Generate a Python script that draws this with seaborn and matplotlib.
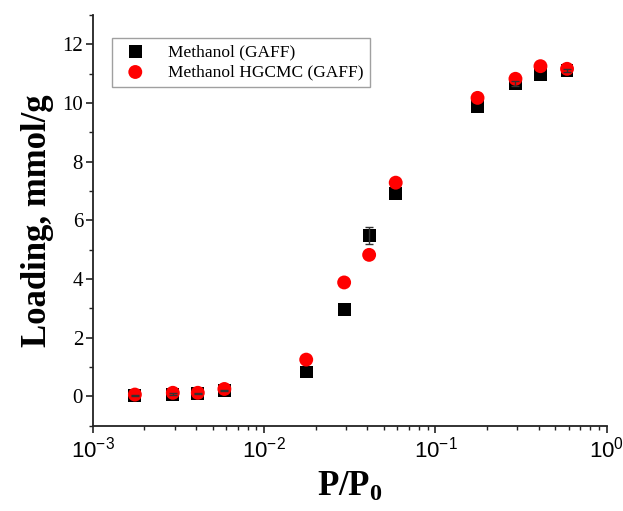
import matplotlib
matplotlib.use("Agg")
import matplotlib.pyplot as plt
import seaborn as sns
import pandas as pd
from matplotlib.ticker import LogLocator, MultipleLocator, NullFormatter

# Data
p_rel = [0.00176, 0.00293, 0.0041, 0.00586, 0.0176, 0.0293, 0.041, 0.0586,
         0.176, 0.293, 0.41, 0.586]
gaff = [0.03, 0.07, 0.10, 0.20, 0.83, 2.97, 5.48, 6.90, 9.87, 10.65, 10.97, 11.11]
gaff_err = [0.03, 0.03, 0.03, 0.03, 0.0, 0.0, 0.28, 0.0, 0.0, 0.08, 0.0, 0.06]
hgcmc = [0.06, 0.12, 0.12, 0.25, 1.25, 3.88, 4.82, 7.28, 10.17, 10.82, 11.25, 11.16]
label_gaff = "Methanol (GAFF)"
label_hgcmc = "Methanol HGCMC (GAFF)"

sns.set_style("ticks")
plt.rcParams["font.family"] = ["Liberation Serif", "DejaVu Serif"]
plt.rcParams["text.color"] = "black"
plt.rcParams["axes.labelcolor"] = "black"
plt.rcParams["xtick.color"] = "black"
plt.rcParams["ytick.color"] = "black"

fig = plt.figure(figsize=(6.23, 5.11), dpi=100)
ax = fig.add_axes([0.149, 0.167, 0.825, 0.804])

df1 = pd.DataFrame({"x": p_rel, "y": gaff})
df2 = pd.DataFrame({"x": p_rel, "y": hgcmc})

sns.scatterplot(data=df1, x="x", y="y", marker="s", color="black", s=85,
                edgecolor="none", label=label_gaff, ax=ax, zorder=2)
sns.scatterplot(data=df2, x="x", y="y", marker="o", color="#ff0000", s=100,
                edgecolor="none", label=label_hgcmc, ax=ax, zorder=3)
mask = [e > 0 for e in gaff_err]
ax.errorbar([p for p, m in zip(p_rel, mask) if m],
            [g for g, m in zip(gaff, mask) if m],
            yerr=[e for e, m in zip(gaff_err, mask) if m],
            fmt="none", ecolor="#333333", elinewidth=1, capsize=3, capthick=1,
            zorder=4)

ax.set_xscale("log")
ax.set_xlim(1e-3, 1)
ax.set_ylim(-1, 13)
ax.yaxis.set_major_locator(MultipleLocator(2))
ax.yaxis.set_minor_locator(MultipleLocator(1))
ax.xaxis.set_major_locator(LogLocator(base=10, numticks=10))
ax.xaxis.set_minor_locator(LogLocator(base=10, subs=range(2, 10), numticks=20))
ax.xaxis.set_minor_formatter(NullFormatter())

sns.despine(ax=ax)
for sp in ["left", "bottom"]:
    ax.spines[sp].set_linewidth(1.3)
    ax.spines[sp].set_color("#222222")

ax.tick_params(axis="both", which="major", direction="out", length=5, width=1.2,
               color="#222222", labelcolor="black")
ax.tick_params(axis="both", which="minor", direction="out", length=3, width=1.0,
               color="#222222")
ax.tick_params(axis="y", labelsize=15, pad=2)
ax.tick_params(axis="x", labelsize=16, pad=3)
for t in ax.get_xticklabels():
    t.set_fontfamily(["Liberation Sans", "DejaVu Sans"])

ax.set_ylabel("Loading, mmol/g", fontsize=25, fontweight="bold", labelpad=6,
              color="black")
ax.set_xlabel(r"$\mathdefault{P/P_0}$", fontsize=25, fontweight="bold", labelpad=6,
              color="black")

leg = ax.legend(loc="upper left", bbox_to_anchor=(0.037, 0.944), borderaxespad=0,
                fancybox=False, frameon=True, edgecolor="#888888", fontsize=12.5,
                handletextpad=0.9, borderpad=0.35, labelspacing=0.25, markerscale=1.0)
leg.get_frame().set_linewidth(1.0)
for t in leg.get_texts():
    t.set_color("black")

fig.savefig("out.png", dpi=100)
